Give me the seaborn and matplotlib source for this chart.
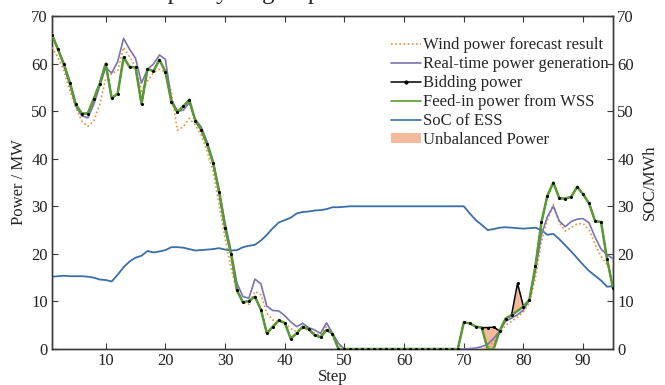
import numpy as np
import pandas as pd
import matplotlib
matplotlib.use("Agg")
import matplotlib.pyplot as plt
import seaborn as sns
from matplotlib.patches import Patch
from matplotlib.lines import Line2D

# ---------------- data ----------------
steps = list(range(1, 96))

forecast = [63.4, 61.3, 58.5, 54.2, 50.7, 47.9, 46.8, 47.9, 51.4, 56.8,
            57.9, 58.5, 63.4, 61.4, 59.3, 54.2, 56.3, 58.1, 58.8, 58.2,
            54.1, 46.0, 46.7, 48.5, 47.1, 45.0, 41.5, 37.3, 30.3, 23.3,
            17.0, 12.1, 9.8, 9.4, 12.1, 11.4, 7.5, 6.1, 5.7, 5.4,
            4.3, 3.6, 4.3, 4.0, 3.4, 2.9, 4.7, 3.3, 0.8, 0.0,
            0, 0, 0, 0, 0, 0, 0, 0, 0, 0,
            0, 0, 0, 0, 0, 0, 0, 0, 0, 0,
            0.0, 0.0, 0.0, 0.3, 1.5, 3.2, 5.0, 5.8, 6.7, 7.8,
            9.8, 15.0, 22.5, 27.0, 30.4, 26.5, 24.8, 25.5, 26.3, 26.4,
            25.0, 22.0, 19.5, 17.7, 16.8]

realtime = [66.0, 63.0, 59.5, 55.5, 51.0, 49.0, 48.6, 51.4, 55.3, 59.2,
            58.0, 60.4, 65.3, 63.0, 61.1, 55.9, 58.8, 59.9, 61.8, 60.9,
            52.5, 50.0, 50.2, 51.8, 48.3, 46.7, 43.5, 39.5, 33.5, 26.5,
            20.5, 13.8, 11.0, 10.7, 14.7, 13.7, 9.0, 8.1, 8.0, 7.0,
            5.7, 4.7, 5.4, 4.5, 4.0, 3.3, 5.5, 3.3, 1.2, 0.0,
            0, 0, 0, 0, 0, 0, 0, 0, 0, 0,
            0, 0, 0, 0, 0, 0, 0, 0, 0, 0,
            0.1, 0.2, 0.5, 1.0, 2.2, 3.8, 5.8, 6.5, 7.2, 8.2,
            10.3, 16.5, 24.0, 27.8, 30.0, 26.9, 25.7, 26.8, 27.3, 27.4,
            26.5, 23.5, 21.0, 19.8, 19.0]

bidding = [66.1, 63.0, 59.9, 56.0, 51.4, 49.5, 49.5, 52.6, 55.8, 60.0,
           52.7, 53.7, 61.3, 59.3, 59.2, 51.5, 58.9, 58.4, 60.8, 58.3,
           52.0, 49.8, 51.0, 52.4, 48.0, 46.1, 43.0, 39.1, 33.0, 25.5,
           20.0, 12.3, 9.8, 10.1, 11.0, 8.3, 3.3, 4.7, 6.0, 5.5,
           2.2, 3.3, 4.7, 4.2, 2.9, 2.5, 4.0, 3.2, 0.0, 0.0,
           0, 0, 0, 0, 0, 0, 0, 0, 0, 0,
           0, 0, 0, 0, 0, 0, 0, 0, 0, 5.6,
           5.4, 4.7, 4.5, 4.5, 4.6, 3.8, 6.4, 7.1, 13.8, 8.9,
           10.4, 17.4, 26.6, 32.2, 35.0, 31.7, 31.6, 32.0, 34.1, 32.5,
           30.6, 26.9, 26.7, 18.9, 12.8]

feedin = [66.1, 63.0, 59.9, 56.0, 51.4, 49.5, 49.5, 52.6, 55.8, 60.0,
          52.7, 53.7, 61.3, 59.3, 59.2, 51.5, 58.9, 58.4, 60.8, 58.3,
          52.0, 49.8, 51.0, 52.4, 48.0, 46.1, 43.0, 39.1, 33.0, 25.5,
          20.0, 12.3, 9.8, 10.1, 11.0, 8.3, 3.3, 4.7, 6.0, 5.5,
          2.2, 3.3, 4.7, 4.2, 2.9, 2.5, 4.0, 3.2, 0.0, 0.0,
          0, 0, 0, 0, 0, 0, 0, 0, 0, 0,
          0, 0, 0, 0, 0, 0, 0, 0, 0, 5.6,
          5.4, 4.7, 4.5, 0.0, 0.0, 3.8, 6.4, 7.1, 8.0, 8.9,
          10.4, 17.4, 26.6, 32.2, 35.0, 31.7, 31.6, 32.0, 34.1, 32.5,
          30.6, 26.9, 26.7, 18.9, 12.8]

soc = [15.2, 15.3, 15.4, 15.3, 15.3, 15.3, 15.2, 15.0, 14.6, 14.5,
       14.2, 15.6, 17.2, 18.4, 19.2, 19.6, 20.6, 20.3, 20.5, 20.8,
       21.4, 21.4, 21.3, 21.0, 20.7, 20.8, 20.9, 21.0, 21.2, 20.9,
       20.7, 20.8, 21.4, 21.7, 21.9, 22.8, 24.0, 25.4, 26.6, 27.1,
       27.6, 28.5, 28.8, 28.9, 29.1, 29.2, 29.4, 29.8, 29.8, 29.9,
       30.0, 30.0, 30.0, 30.0, 30.0, 30.0, 30.0, 30.0, 30.0, 30.0,
       30.0, 30.0, 30.0, 30.0, 30.0, 30.0, 30.0, 30.0, 30.0, 30.0,
       28.5, 27.1, 26.1, 25.0, 25.2, 25.5, 25.6, 25.5, 25.4, 25.3,
       25.4, 25.5, 25.0, 24.0, 24.2, 23.1, 21.8, 20.5, 19.1, 17.7,
       16.4, 15.4, 14.4, 13.1, 13.2]

x_ticks = [10, 20, 30, 40, 50, 60, 70, 80, 90]
y_ticks = [0, 10, 20, 30, 40, 50, 60, 70]

labels = ["Wind power forecast result", "Real-time power generation",
          "Bidding power", "Feed-in power from WSS", "SoC of ESS",
          "Unbalanced Power"]

df = pd.DataFrame({"step": steps, "forecast": forecast, "realtime": realtime,
                   "bidding": bidding, "feedin": feedin, "soc": soc})

# ---------------- style ----------------
sns.set_theme(style="ticks")
plt.rcParams["font.family"] = ["Liberation Serif", "DejaVu Serif"]

c_orange = "#E8913A"
c_purple = "#7A72B4"
c_black = "#000000"
c_green = "#5A9A34"
c_blue = "#3A6EA8"
c_fill = "#F4BA9B"
c_spine = "#3a3a3a"
fs = 12

fig = plt.figure(figsize=(6.65, 3.85), dpi=100)
ax = fig.add_axes([52 / 665, 1 - 349 / 385, (613 - 52) / 665, (349 - 16) / 385])
ax2 = ax.twinx()

# SoC on right axis
sns.lineplot(data=df, x="step", y="soc", ax=ax2, color=c_blue, lw=1.3, zorder=2)

ax.set_zorder(ax2.get_zorder() + 1)
ax.patch.set_visible(False)

ax.fill_between(df["step"], df["bidding"], df["feedin"], color=c_fill,
                lw=0, zorder=1)
sns.lineplot(data=df, x="step", y="forecast", ax=ax, color=c_orange, lw=1.2,
             linestyle=(0, (1, 1.5)), zorder=3)
sns.lineplot(data=df, x="step", y="realtime", ax=ax, color=c_purple, lw=1.2,
             zorder=3)
sns.lineplot(data=df, x="step", y="bidding", ax=ax, color=c_black, lw=1.1,
             zorder=4)
sns.lineplot(data=df, x="step", y="feedin", ax=ax, color=c_green, lw=1.8,
             zorder=5)
sns.scatterplot(data=df, x="step", y="bidding", ax=ax, color=c_black, s=5,
                linewidth=0, zorder=6)

for a in (ax, ax2):
    a.set_xlim(1, 95)
    a.set_ylim(0, 70)
    a.set_yticks(y_ticks)
    for sp in a.spines.values():
        sp.set_color(c_spine)
        sp.set_linewidth(1.0)

ax.set_xticks(x_ticks)
ax.tick_params(axis="both", which="both", direction="in", length=4,
               width=0.8, colors=c_spine, labelcolor="#222222", labelsize=fs,
               top=True, right=False, pad=3)
ax2.tick_params(axis="y", direction="in", length=4, width=0.8, colors=c_spine,
                labelcolor="#222222", labelsize=fs, pad=3)

ax.set_xlabel("Step", fontsize=fs, labelpad=0, color="#222222")
ax.set_ylabel("Power / MW", fontsize=fs, labelpad=3, color="#222222")
ax2.set_ylabel("SOC/MWh", fontsize=fs, labelpad=6, color="#222222")

handles = [
    Line2D([], [], color=c_orange, lw=1.2, linestyle=(0, (1, 1.5))),
    Line2D([], [], color=c_purple, lw=1.2),
    Line2D([], [], color=c_black, lw=1.1, marker="o", markersize=2),
    Line2D([], [], color=c_green, lw=1.2),
    Line2D([], [], color=c_blue, lw=1.2),
    Patch(facecolor=c_fill, edgecolor="none"),
]
leg = fig.legend(handles, labels, loc="upper left",
                 bbox_to_anchor=(391 / 665, 1 - 37 / 385), frameon=False,
                 fontsize=fs, handlelength=1.8, handletextpad=0.1,
                 labelspacing=0.18, borderpad=0, borderaxespad=0,
                 handleheight=0.55)

# clipped heading at the very top of the image (only descenders visible)
fig.text(140 / 665, 1 + 1 / 385, "Capacity of group", fontsize=18,
         ha="left", va="baseline", color="#222222")

fig.savefig("out.png", dpi=100)
